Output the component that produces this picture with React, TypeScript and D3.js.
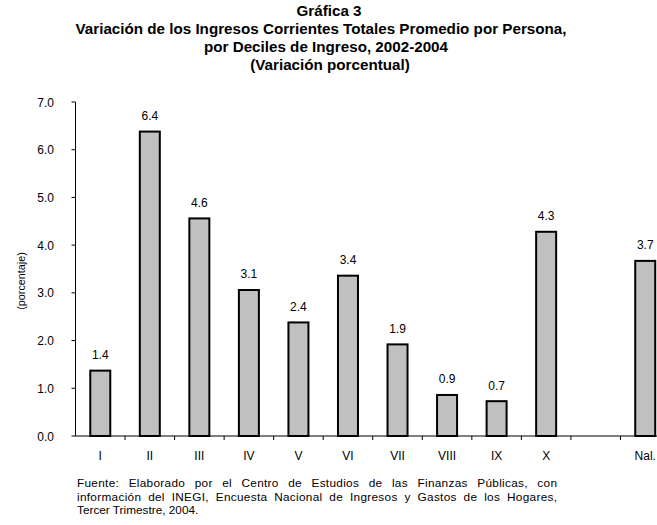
import React, { useLayoutEffect, useRef, useState } from "react";
import * as d3 from "d3";

const categories = ["I", "II", "III", "IV", "V", "VI", "VII", "VIII", "IX", "X", "", "Nal."];
const values: (number | null)[] = [1.37, 6.38, 4.56, 3.06, 2.38, 3.36, 1.92, 0.86, 0.73, 4.28, null, 3.67];
const yTicks = [0, 1, 2, 3, 4, 5, 6, 7];
const titleLines = [
  "Gráfica 3",
  "Variación de los Ingresos Corrientes Totales Promedio por Persona,",
  "por Deciles de Ingreso, 2002-2004",
  "(Variación porcentual)",
];
const yAxisTitle = "(porcentaje)";
const footerLines = [
  "Fuente: Elaborado por el Centro de Estudios de las Finanzas Públicas, con",
  "información del INEGI, Encuesta Nacional de Ingresos y Gastos de los Hogares,",
  "Tercer Trimestre, 2004.",
];

const W = 657;
const H = 525;
const FONT = "'Liberation Sans', Arial, sans-serif";
const FOOT_W = 480;
const FOOT_LS = 0.3;

export default function App() {
  const keys = categories.map((_, i) => String(i));
  const x = d3.scaleBand<string>().domain(keys).range([75.5, 670]).padding(0);
  const y = d3.scaleLinear().domain([0, 7]).range([436, 102]);
  const bw = x.bandwidth();
  const barW = 20;
  const titleY = [16, 34, 52, 70];
  const titleX = [329, 321, 326, 330];
  const footY = [487, 501, 514];

  const footRefs = useRef<(SVGTextElement | null)[]>([]);
  const [spacing, setSpacing] = useState<{ ws: number; ls: number }[]>([
    { ws: 0, ls: 0 },
    { ws: 0, ls: 0 },
    { ws: 0, ls: 0 },
  ]);
  useLayoutEffect(() => {
    const s = footerLines.map((t, i) => {
      if (i >= 2) return { ws: 0, ls: 0 };
      const el = footRefs.current[i];
      if (!el) return { ws: 0, ls: 0 };
      const len = el.getComputedTextLength();
      const gaps = t.split(" ").length - 1;
      const extra = FOOT_W - len - FOOT_LS * (t.length - 1);
      return { ws: gaps > 0 ? Math.max(0, extra / gaps) : 0, ls: FOOT_LS };
    });
    setSpacing(s);
  }, []);

  return (
    <svg
      width={W}
      height={H}
      style={{ position: "absolute", left: 0, top: 0, background: "#fff" }}
      fontFamily={FONT}
    >
      <rect x={0} y={0} width={W} height={H} fill="#fff" />
      {titleLines.map((t, i) => (
        <text key={i} x={titleX[i]} y={titleY[i]} textAnchor="middle" fontWeight="bold" fontSize={15.2} fill="#000">
          {t}
        </text>
      ))}
      {/* y axis */}
      <line x1={75.5} x2={75.5} y1={y(7)} y2={y(0)} stroke="#000" strokeWidth={1} />
      {yTicks.map((t) => (
        <g key={t}>
          <line x1={71.5} x2={75.5} y1={y(t)} y2={y(t)} stroke="#000" strokeWidth={1} />
          <text x={54} y={y(t) + 4.5} textAnchor="end" fontSize={12} fill="#000">
            {t.toFixed(1)}
          </text>
        </g>
      ))}
      <text
        transform={`translate(25,${281}) rotate(-90)`}
        textAnchor="middle"
        fontSize={10.8}
        fill="#000"
      >
        {yAxisTitle}
      </text>
      {/* bars */}
      {values.map((v, i) => {
        if (v == null) return null;
        const cx = (x(keys[i]) as number) + bw / 2;
        return (
          <g key={i}>
            <rect
              x={cx - barW / 2}
              y={y(v)}
              width={barW}
              height={y(0) - y(v)}
              fill="#c0c0c0"
              stroke="#000"
              strokeWidth={2}
            />
            <text x={cx} y={y(v) - 11.5} textAnchor="middle" fontSize={12} fill="#000">
              {v.toFixed(1)}
            </text>
          </g>
        );
      })}
      {/* x axis */}
      <line x1={75.5} x2={670} y1={436} y2={436} stroke="#000" strokeWidth={1} />
      {keys.map((k) => (
        <line key={k} x1={(x(k) as number) + bw} x2={(x(k) as number) + bw} y1={436} y2={440} stroke="#000" strokeWidth={1} />
      ))}
      {categories.map((c, i) => (
        <text key={i} x={(x(keys[i]) as number) + bw / 2} y={460} textAnchor="middle" fontSize={12} fill="#000">
          {c}
        </text>
      ))}
      {footerLines.map((t, i) => (
        <text
          key={i}
          ref={(el) => {
            footRefs.current[i] = el;
          }}
          x={77}
          y={footY[i]}
          fontSize={11.8}
          fill="#000"
          style={{ wordSpacing: `${spacing[i].ws}px`, letterSpacing: `${spacing[i].ls}px` }}
        >
          {t}
        </text>
      ))}
    </svg>
  );
}
